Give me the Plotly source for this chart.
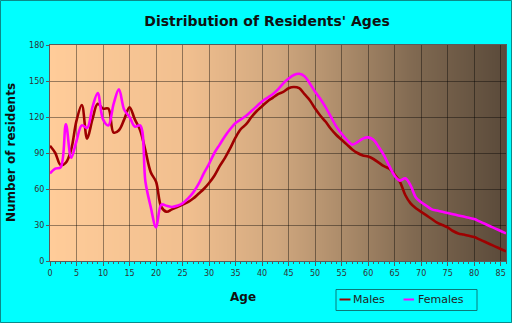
import base64
import struct
import zlib

import plotly.graph_objects as go

# Residents by single year of age
ages = list(range(0, 87))
males = [96, 90, 80, 82, 93, 117, 130, 102, 118, 131,
         127, 127, 107, 109, 118, 128, 118, 109, 92, 74,
         66, 45, 41, 43, 45, 47, 49, 52, 56, 60,
         65, 71, 79, 86, 94, 103, 110, 114, 120, 125,
         129, 133, 136, 139, 141, 144, 145, 144, 139, 134,
         127, 121, 116, 110, 105, 101, 97, 93, 90, 88,
         87, 85, 82, 79, 77, 72, 66, 55, 48, 44,
         41, 38, 35, 32, 30, 28, 25, 23, 22, 21,
         20, 18, 16, 14, 12, 10, 8]
females = [73, 77, 78, 114, 86, 100, 113, 111, 128, 140,
           118, 113, 131, 143, 126, 120, 112, 113, 66, 45,
           28, 47, 46, 45, 46, 48, 52, 57, 64, 73,
           81, 90, 97, 104, 110, 115, 118, 121, 125, 129,
           133, 136, 139, 143, 148, 152, 155, 156, 154, 148,
           141, 135, 128, 120, 112, 106, 101, 97, 99, 102,
           103, 101, 95, 88, 79, 71, 67, 69, 63, 53,
           49, 46, 43, 42, 41, 40, 39, 38, 37, 36,
           35, 33, 31, 29, 27, 25, 23]
x_ticks = list(range(0, 90, 5))
y_ticks = list(range(0, 181, 30))

W, H = 512, 323
L, R, T, B = 50, 6, 45, 62
PW, PH = W - L - R, H - T - B

FONT = "DejaVu Sans, Verdana, sans-serif"


def px(xp):
    return (xp - L) / PW


def py(yp):
    return (H - B - yp) / PH


def gradient_png(width, stops):
    """One-row RGB PNG with a horizontal colour ramp through the given stops."""
    row = bytearray([0])
    for i in range(width):
        t = i / (width - 1)
        for (t0, c0), (t1, c1) in zip(stops[:-1], stops[1:]):
            if t0 <= t <= t1:
                f = (t - t0) / (t1 - t0)
                row.extend(int(round(a + (b - a) * f)) for a, b in zip(c0, c1))
                break
    def chunk(tag, data):
        return (struct.pack(">I", len(data)) + tag + data
                + struct.pack(">I", zlib.crc32(tag + data) & 0xFFFFFFFF))
    png = (b"\x89PNG\r\n\x1a\n"
           + chunk(b"IHDR", struct.pack(">IIBBBBB", width, 1, 8, 2, 0, 0, 0))
           + chunk(b"IDAT", zlib.compress(bytes(row)))
           + chunk(b"IEND", b""))
    return "data:image/png;base64," + base64.b64encode(png).decode()


bg_stops = [
    (0.0, (255, 204, 153)),
    (0.3, (241, 191, 143)),
    (0.5, (208, 167, 126)),
    (0.65, (170, 138, 105)),
    (0.8, (128, 105, 81)),
    (1.0, (90, 74, 58)),
]

MALE_COLOR = "#9e0000"
FEMALE_COLOR = "#ff00ff"

fig = go.Figure()
fig.add_trace(go.Scatter(x=ages, y=males, name="Males", mode="lines",
                         line=dict(color=MALE_COLOR, width=2.6, shape="spline")))
fig.add_trace(go.Scatter(x=ages, y=females, name="Females", mode="lines",
                         line=dict(color=FEMALE_COLOR, width=2.6, shape="spline")))

axis_common = dict(
    showgrid=True, gridcolor="rgba(0,0,0,0.4)", gridwidth=1,
    zeroline=False, showline=True, linecolor="#5a5a5a", linewidth=1,
    mirror=True, ticks="outside", tickcolor="#5a5a5a",
    tickfont=dict(family=FONT, size=8, color="#333333"),
)

fig.update_xaxes(range=[0, 86], tickvals=x_ticks, ticklen=4,
                 minor=dict(dtick=1, ticks="outside", ticklen=2, tickcolor="#5a5a5a",
                            showgrid=False),
                 **axis_common)
fig.update_yaxes(range=[0, 180], tickvals=y_ticks, ticklen=3, **axis_common)

shapes = [
    # outer frame
    dict(type="rect", xref="paper", yref="paper",
         x0=px(0.5), x1=px(W - 0.5), y0=py(0.5), y1=py(H - 0.5),
         line=dict(color="#0b8a8a", width=1), fillcolor="rgba(0,0,0,0)", layer="above"),
    # legend box
    dict(type="rect", xref="paper", yref="paper",
         x0=px(336), x1=px(477), y0=py(289.5), y1=py(310.5),
         line=dict(color="#0b7a7a", width=1), fillcolor="rgba(0,0,0,0)"),
    dict(type="line", xref="paper", yref="paper",
         x0=px(339.5), x1=px(350.5), y0=py(299.5), y1=py(299.5),
         line=dict(color=MALE_COLOR, width=2)),
    dict(type="line", xref="paper", yref="paper",
         x0=px(403.5), x1=px(414), y0=py(299.5), y1=py(299.5),
         line=dict(color=FEMALE_COLOR, width=2)),
]

annotations = [
    dict(text="Number of residents", xref="paper", yref="paper",
         x=px(11), y=py(153), xanchor="center", yanchor="middle",
         textangle=-90, showarrow=False,
         font=dict(family=FONT, size=12, color="#111111", weight="bold")),
    dict(text="Age", xref="paper", yref="paper",
         x=px(243), y=py(297), xanchor="center", yanchor="middle", showarrow=False,
         font=dict(family=FONT, size=12, color="#111111", weight="bold")),
    dict(text="Males", xref="paper", yref="paper", xanchor="left", yanchor="middle",
         x=px(351), y=py(299.5), showarrow=False,
         font=dict(family=FONT, size=11, color="#222222")),
    dict(text="Females", xref="paper", yref="paper", xanchor="left", yanchor="middle",
         x=px(416), y=py(299.5), showarrow=False,
         font=dict(family=FONT, size=11, color="#222222")),
]

fig.update_layout(
    width=W, height=H,
    margin=dict(l=L, r=R, t=T, b=B),
    paper_bgcolor="#00ffff",
    plot_bgcolor="#ffcc99",
    showlegend=False,
    title=dict(text="Distribution of Residents' Ages", x=267 / W, xanchor="center",
               xref="container", y=1 - 21 / H, yanchor="middle", yref="container",
               font=dict(family=FONT, size=14, color="#111111", weight="bold")),
    images=[dict(source=gradient_png(PW, bg_stops), xref="paper", yref="paper",
                 x=0, y=1, sizex=1, sizey=1, xanchor="left", yanchor="top",
                 sizing="stretch", layer="below")],
    shapes=shapes,
    annotations=annotations,
)

fig.write_html("out.html")
